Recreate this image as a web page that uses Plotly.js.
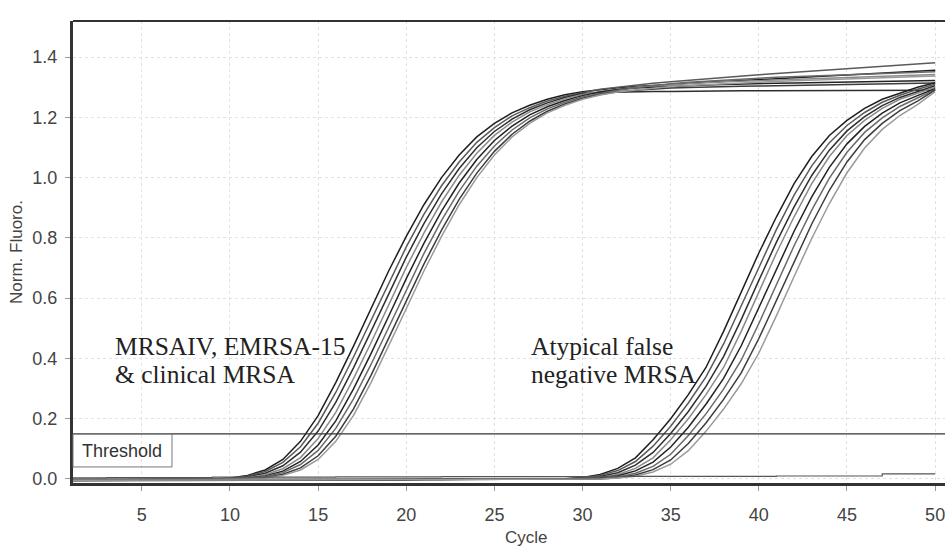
<!DOCTYPE html>
<html>
<head>
<meta charset="utf-8">
<script src="https://cdn.plot.ly/plotly-3.0.1.min.js"></script>
<style>html,body{margin:0;padding:0;background:#fff;}#chart{width:945px;height:548px;}</style>
</head>
<body>
<div id="chart"></div>
<script>
// ---- Data ----
const cycles = [1,2,3,4,5,6,7,8,9,10,11,12,13,14,15,16,17,18,19,20,21,22,23,24,25,26,27,28,29,30,31,32,33,34,35,36,37,38,39,40,41,42,43,44,45,46,47,48,49,50];

// Group 1: MRSAIV, EMRSA-15 & clinical MRSA
const g1A = [-0.003,-0.003,-0.002,-0.003,-0.002,-0.002,-0.002,-0.001,0.000,0.003,0.012,0.030,0.065,0.125,0.210,0.320,0.440,0.565,0.690,0.805,0.910,1.000,1.075,1.135,1.180,1.215,1.240,1.260,1.275,1.285,1.292,1.298,1.302,1.306,1.310,1.313,1.316,1.319,1.322,1.325,1.328,1.331,1.334,1.337,1.340,1.343,1.346,1.350,1.353,1.356];
const g1B = [-0.004,-0.004,-0.003,-0.003,-0.003,-0.003,-0.002,-0.002,-0.001,0.002,0.009,0.025,0.055,0.107,0.185,0.287,0.404,0.527,0.652,0.770,0.878,0.973,1.052,1.117,1.166,1.205,1.232,1.254,1.270,1.282,1.293,1.300,1.307,1.313,1.318,1.323,1.328,1.333,1.337,1.341,1.345,1.349,1.353,1.357,1.361,1.365,1.369,1.373,1.377,1.381];
const g1C = [-0.002,-0.002,-0.002,-0.002,-0.001,-0.001,-0.001,-0.001,0.000,0.001,0.007,0.019,0.044,0.089,0.159,0.254,0.368,0.490,0.615,0.736,0.847,0.946,1.030,1.099,1.153,1.194,1.225,1.248,1.266,1.279,1.282,1.284,1.285,1.286,1.286,1.287,1.287,1.287,1.288,1.288,1.288,1.288,1.289,1.289,1.289,1.289,1.289,1.290,1.290,1.290];
const g1D = [-0.005,-0.005,-0.004,-0.004,-0.004,-0.004,-0.003,-0.003,-0.002,0.000,0.004,0.014,0.034,0.071,0.134,0.221,0.332,0.452,0.578,0.702,0.816,0.919,1.008,1.081,1.140,1.184,1.218,1.242,1.262,1.276,1.286,1.294,1.300,1.305,1.309,1.312,1.315,1.318,1.320,1.322,1.324,1.326,1.328,1.330,1.332,1.334,1.336,1.338,1.340,1.342];
const g1E = [-0.003,-0.003,-0.003,-0.003,-0.002,-0.002,-0.002,-0.002,-0.001,-0.001,0.002,0.010,0.026,0.058,0.113,0.193,0.298,0.416,0.540,0.665,0.782,0.889,0.982,1.060,1.123,1.171,1.208,1.235,1.256,1.272,1.284,1.292,1.297,1.300,1.303,1.305,1.307,1.309,1.311,1.312,1.313,1.314,1.315,1.316,1.317,1.318,1.319,1.320,1.321,1.322];
const g1F = [-0.004,-0.004,-0.004,-0.003,-0.003,-0.003,-0.003,-0.002,-0.002,-0.001,0.002,0.008,0.021,0.048,0.095,0.168,0.265,0.380,0.503,0.628,0.748,0.858,0.955,1.038,1.105,1.158,1.198,1.228,1.250,1.268,1.280,1.290,1.298,1.305,1.311,1.316,1.320,1.324,1.327,1.330,1.333,1.335,1.337,1.339,1.341,1.343,1.345,1.347,1.349,1.351];
const g1G = [-0.002,-0.002,-0.002,-0.002,-0.002,-0.001,-0.001,-0.001,-0.001,0.000,0.000,0.005,0.016,0.037,0.077,0.142,0.232,0.344,0.465,0.590,0.713,0.826,0.928,1.015,1.087,1.144,1.187,1.220,1.244,1.263,1.276,1.285,1.290,1.294,1.297,1.299,1.301,1.302,1.303,1.304,1.305,1.306,1.307,1.308,1.309,1.310,1.311,1.312,1.313,1.314];
const g1H = [-0.005,-0.005,-0.005,-0.004,-0.004,-0.004,-0.004,-0.003,-0.003,-0.002,-0.001,0.003,0.012,0.030,0.065,0.125,0.210,0.320,0.440,0.565,0.690,0.805,0.910,1.000,1.075,1.135,1.180,1.215,1.240,1.260,1.274,1.284,1.291,1.297,1.302,1.306,1.309,1.312,1.315,1.317,1.319,1.321,1.323,1.325,1.327,1.329,1.331,1.333,1.335,1.337];

// Group 2: Atypical false negative MRSA
const g2P = [-0.004,-0.004,-0.004,-0.004,-0.004,-0.003,-0.003,-0.003,-0.003,-0.003,-0.003,-0.003,-0.002,-0.002,-0.002,-0.002,-0.002,-0.002,-0.002,-0.001,-0.001,-0.001,-0.001,-0.001,-0.001,0.000,0.000,0.000,0.001,0.005,0.015,0.035,0.070,0.130,0.200,0.280,0.370,0.490,0.620,0.750,0.870,0.980,1.070,1.140,1.190,1.230,1.260,1.280,1.300,1.315];
const g2Q = [-0.003,-0.003,-0.003,-0.003,-0.003,-0.003,-0.003,-0.002,-0.002,-0.002,-0.002,-0.002,-0.002,-0.002,-0.002,-0.001,-0.001,-0.001,-0.001,-0.001,-0.001,-0.001,0.000,0.000,0.000,0.000,0.000,0.000,0.000,0.004,0.012,0.028,0.058,0.109,0.175,0.252,0.339,0.448,0.575,0.705,0.828,0.942,1.039,1.116,1.173,1.216,1.250,1.273,1.293,1.310];
const g2R = [-0.005,-0.005,-0.005,-0.005,-0.005,-0.004,-0.004,-0.004,-0.004,-0.004,-0.004,-0.004,-0.003,-0.003,-0.003,-0.003,-0.003,-0.003,-0.003,-0.002,-0.002,-0.002,-0.002,-0.002,-0.001,-0.001,-0.001,-0.001,0.000,0.002,0.008,0.021,0.046,0.088,0.151,0.224,0.307,0.406,0.529,0.659,0.786,0.903,1.007,1.091,1.155,1.202,1.239,1.266,1.286,1.305];
const g2S = [-0.002,-0.002,-0.002,-0.002,-0.002,-0.002,-0.002,-0.002,-0.002,-0.002,-0.001,-0.001,-0.001,-0.001,-0.001,-0.001,-0.001,-0.001,-0.001,-0.001,0.000,0.000,0.000,0.000,0.000,0.000,0.000,0.000,0.000,0.001,0.005,0.015,0.035,0.070,0.130,0.200,0.280,0.370,0.490,0.620,0.750,0.870,0.980,1.070,1.140,1.190,1.230,1.260,1.280,1.300];
const g2T = [-0.004,-0.004,-0.004,-0.004,-0.004,-0.004,-0.004,-0.003,-0.003,-0.003,-0.003,-0.003,-0.003,-0.003,-0.003,-0.002,-0.002,-0.002,-0.002,-0.002,-0.002,-0.002,-0.001,-0.001,-0.001,-0.001,-0.001,-0.001,-0.001,0.000,0.003,0.011,0.027,0.056,0.106,0.172,0.248,0.334,0.442,0.568,0.698,0.822,0.936,1.034,1.112,1.170,1.214,1.248,1.272,1.295];
const g2U = [-0.003,-0.003,-0.003,-0.003,-0.003,-0.003,-0.003,-0.003,-0.003,-0.003,-0.002,-0.002,-0.002,-0.002,-0.002,-0.002,-0.002,-0.002,-0.002,-0.002,-0.001,-0.001,-0.001,-0.001,-0.001,-0.001,-0.001,-0.001,-0.001,0.000,0.002,0.007,0.019,0.042,0.082,0.144,0.216,0.298,0.394,0.516,0.646,0.774,0.892,0.998,1.084,1.150,1.198,1.236,1.264,1.292];
const g2V = [-0.005,-0.005,-0.005,-0.005,-0.005,-0.005,-0.004,-0.004,-0.004,-0.004,-0.004,-0.004,-0.004,-0.003,-0.003,-0.003,-0.003,-0.003,-0.003,-0.003,-0.002,-0.002,-0.002,-0.002,-0.002,-0.002,-0.001,-0.001,-0.001,-0.001,0.000,0.004,0.013,0.031,0.063,0.118,0.186,0.264,0.352,0.466,0.594,0.724,0.846,0.958,1.052,1.126,1.180,1.222,1.254,1.290];
const g2W = [-0.004,-0.004,-0.004,-0.004,-0.004,-0.004,-0.004,-0.004,-0.003,-0.003,-0.003,-0.003,-0.003,-0.003,-0.003,-0.003,-0.002,-0.002,-0.002,-0.002,-0.002,-0.002,-0.002,-0.001,-0.001,-0.001,-0.001,-0.001,-0.001,-0.001,0.000,0.003,0.009,0.023,0.049,0.094,0.158,0.232,0.316,0.418,0.542,0.672,0.798,0.914,1.016,1.098,1.160,1.206,1.242,1.285];

// Non-amplifying control trace
const negCtrl = [0.004,0.004,0.005,0.005,0.005,0.005,0.005,0.005,0.006,0.006,0.006,0.006,0.006,0.006,0.006,0.007,0.007,0.007,0.007,0.007,0.007,0.008,0.008,0.008,0.008,0.008,0.008,0.008,0.008,0.008,0.009,0.009,0.009,0.009,0.009,0.009,0.009,0.009,0.009,0.009,0.010,0.010,0.010,0.010,0.010,0.010,0.017,0.017,0.017,0.017];

const yTicks = [0.0,0.2,0.4,0.6,0.8,1.0,1.2,1.4];
const xTicks = [5,10,15,20,25,30,35,40,45,50];
const thresholdValue = 0.15;

const series = [g1A,g1B,g1C,g1D,g1E,g1F,g1G,g1H,g2P,g2Q,g2R,g2S,g2T,g2U,g2V,g2W];
const lineColors = ['#1e1e1e','#5a5a5a','#2e2e2e','#8a8a8a','#222222','#6a6a6a','#3c3c3c','#9a9a9a',
                    '#1e1e1e','#5a5a5a','#2e2e2e','#8a8a8a','#222222','#6a6a6a','#3c3c3c','#9a9a9a'];

const traces = series.map((ys, i) => ({
  x: cycles, y: ys, type: 'scatter', mode: 'lines',
  line: {color: lineColors[i], width: 1.5},
  hoverinfo: 'skip', showlegend: false
}));
traces.push({x: cycles, y: negCtrl, type: 'scatter', mode: 'lines',
  line: {color: '#555', width: 1.2, shape: 'hv'}, hoverinfo: 'skip', showlegend: false});

const sans = 'Liberation Sans, Arial, sans-serif';
const serif = 'Liberation Serif, Times New Roman, serif';

const layout = {
  width: 945, height: 548,
  margin: {l: 73, r: 0, t: 21, b: 65},
  paper_bgcolor: '#ffffff', plot_bgcolor: '#ffffff',
  showlegend: false,
  xaxis: {
    range: [1.095, 50.56], tickvals: xTicks, ticktext: xTicks.map(String),
    showgrid: true, gridcolor: '#e2e2e2', griddash: 'dot', gridwidth: 1,
    zeroline: false, showline: true, linecolor: '#333', linewidth: 3,
    ticks: 'outside', ticklen: 5, tickcolor: '#999', ticklabelstandoff: 8,
    ticklabeloverflow: 'allow',
    tickfont: {family: sans, size: 18, color: '#444'},
    title: {text: ''}
  },
  yaxis: {
    range: [-0.0133, 1.5196], tickvals: yTicks, ticktext: yTicks.map(v => v.toFixed(1)),
    showgrid: true, gridcolor: '#e2e2e2', griddash: 'dot', gridwidth: 1,
    zeroline: false, showline: true, linecolor: '#333', linewidth: 3,
    ticks: 'outside', ticklen: 5, tickcolor: '#999', ticklabelstandoff: 4,
    tickfont: {family: sans, size: 18, color: '#444'},
    title: {text: 'Norm. Fluoro.', font: {family: sans, size: 17, color: '#444'}, standoff: 6}
  },
  shapes: [
    {type: 'line', xref: 'paper', yref: 'paper', x0: 0, x1: 1, y0: 1, y1: 1,
     line: {color: '#333', width: 2}},
    {type: 'line', xref: 'paper', yref: 'y', x0: 0, x1: 1, y0: thresholdValue, y1: thresholdValue,
     line: {color: '#333', width: 1.2}},
    {type: 'rect', xref: 'paper', yref: 'y', x0: 0, x1: 0.1135, y0: 0.04, y1: thresholdValue,
     line: {color: '#777', width: 1}, fillcolor: 'rgba(255,255,255,0)'}
  ],
  annotations: [
    {text: 'Threshold', xref: 'paper', yref: 'y', x: 0.0567, y: 0.092, showarrow: false,
     xanchor: 'center', yanchor: 'middle', font: {family: sans, size: 18, color: '#333'}},
    {text: 'MRSAIV, EMRSA-15', xref: 'x', yref: 'y', x: 3.36, y: 0.44, showarrow: false,
     xanchor: 'left', yanchor: 'middle', font: {family: serif, size: 25.5, color: '#222'}},
    {text: '&amp; clinical MRSA', xref: 'x', yref: 'y', x: 3.36, y: 0.347, showarrow: false,
     xanchor: 'left', yanchor: 'middle', font: {family: serif, size: 25.5, color: '#222'}},
    {text: 'Atypical false', xref: 'x', yref: 'y', x: 26.95, y: 0.44, showarrow: false,
     xanchor: 'left', yanchor: 'middle', font: {family: serif, size: 25.5, color: '#222'}},
    {text: 'negative MRSA', xref: 'x', yref: 'y', x: 26.95, y: 0.347, showarrow: false,
     xanchor: 'left', yanchor: 'middle', font: {family: serif, size: 25.5, color: '#222'}},
    {text: 'Cycle', xref: 'paper', yref: 'paper', x: 0.52, y: -0.118, showarrow: false,
     xanchor: 'center', yanchor: 'middle', font: {family: sans, size: 17, color: '#444'}}
  ]
};

Plotly.newPlot('chart', traces, layout, {displayModeBar: false, staticPlot: true});
</script>
</body>
</html>
